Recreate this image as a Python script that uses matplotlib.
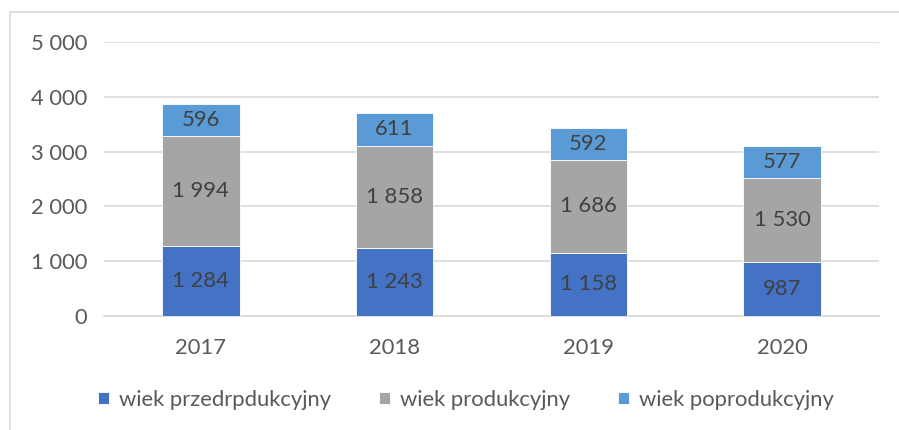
import matplotlib
matplotlib.use("Agg")
import matplotlib.pyplot as plt
from matplotlib.patches import Rectangle
import numpy as np

years = ["2017", "2018", "2019", "2020"]
pre = [1284, 1243, 1158, 987]
prod = [1994, 1858, 1686, 1530]
post = [596, 611, 592, 577]
series_names = ["wiek przedrpdukcyjny", "wiek produkcyjny", "wiek poprodukcyjny"]
colors = ["#4472C4", "#A5A5A5", "#5B9BD5"]
yticks = [0, 1000, 2000, 3000, 4000, 5000]

def fmt(v):
    return f"{v:,}".replace(",", " ")

plt.rcParams['font.family'] = ['Lato', 'DejaVu Sans']
FS = 15.8

fig = plt.figure(figsize=(8.99, 4.30), dpi=100)
fig.patches.append(Rectangle((10/899, -0.1), 1.0, 1 - 12/430 + 0.1, transform=fig.transFigure,
                             fill=False, edgecolor="#D9D9D9", linewidth=1.2))
ax = fig.add_axes([104/899, 1 - 316/430, (879 - 104)/899, (316 - 42)/430])

x = np.arange(len(years))
w = 0.4
bottoms = np.zeros(len(years))
for vals, c, name in zip([pre, prod, post], colors, series_names):
    ax.bar(x, vals, w, bottom=bottoms, color=c, label=name, zorder=3,
           edgecolor="white", linewidth=0.6)
    for xi, b, v in zip(x, bottoms, vals):
        ax.text(xi, b + v / 2, fmt(v), ha="center", va="center", fontsize=FS,
                color="#404040", zorder=4)
    bottoms = bottoms + np.array(vals)

ax.set_xlim(-0.5, len(years) - 0.5)
ax.set_ylim(0, 5000)
ax.set_yticks(yticks)
ax.set_yticklabels([fmt(v) for v in yticks])
ax.set_xticks(x)
ax.set_xticklabels(years)
ax.tick_params(axis="both", length=0, labelsize=FS, labelcolor="#595959")
ax.tick_params(axis="y", pad=12)
ax.tick_params(axis="x", pad=16)
ax.grid(axis="y", color="#D9D9D9", linewidth=1.2, zorder=0)
for s in ["top", "right", "left"]:
    ax.spines[s].set_visible(False)
ax.spines["bottom"].set_color("#D9D9D9")
ax.spines["bottom"].set_linewidth(1.2)

leg = fig.legend(loc="center", bbox_to_anchor=(466/899, 1 - 400/430), ncol=3, frameon=False,
                 fontsize=FS, handlelength=0.5, handleheight=0.5, handletextpad=0.45,
                 columnspacing=2.2, labelcolor="#595959")

fig.savefig("out.png", dpi=100)
